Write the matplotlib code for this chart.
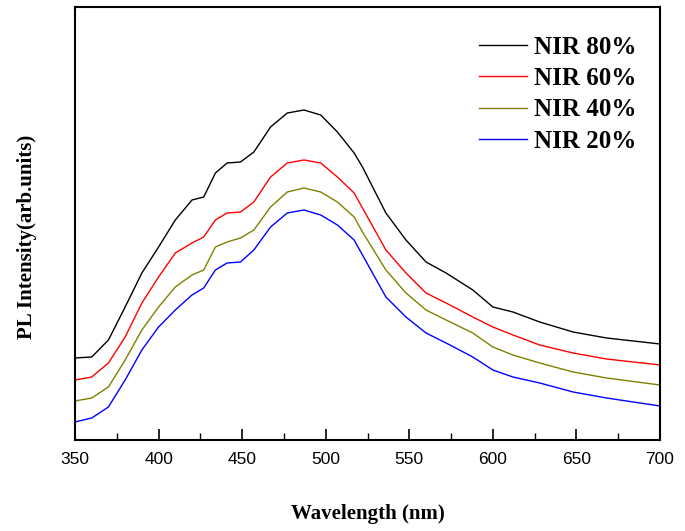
import matplotlib
matplotlib.use("Agg")
import matplotlib.pyplot as plt
from matplotlib.ticker import MultipleLocator

# wavelength grid (nm)
wavelength = [350, 360, 370, 380, 390, 400, 410, 420, 427, 434, 441, 449, 457, 467, 477,
              487, 497, 507, 517, 522, 536, 548, 560, 572, 588, 600, 612, 628, 648, 668, 700]

# PL intensity (arb. units), estimated from the curves
nir80 = [82, 83, 100, 133, 167, 193, 220, 240, 243, 267, 277, 278, 288, 313, 327,
         330, 325, 308, 287, 273, 227, 200, 178, 167, 150, 133, 128, 118, 108, 102, 96]
nir60 = [60, 63, 77, 103, 137, 163, 187, 197, 203, 220, 227, 228, 238, 263, 277,
         280, 277, 263, 247, 232, 190, 167, 147, 137, 123, 113, 105, 95, 87, 81, 75]
nir40 = [39, 42, 53, 80, 110, 133, 153, 165, 170, 193, 198, 202, 210, 233, 248,
         252, 248, 238, 223, 208, 170, 147, 130, 120, 107, 93, 85, 77, 68, 62, 55]
nir20 = [18, 22, 33, 60, 90, 113, 130, 145, 152, 170, 177, 178, 190, 213, 227,
         230, 225, 215, 200, 185, 143, 123, 107, 97, 83, 70, 63, 57, 48, 42, 34]

labels = ["NIR 80%", "NIR 60%", "NIR 40%", "NIR 20%"]
colors = ["black", "#ff0000", "#808000", "#0000ff"]

fig = plt.figure(figsize=(6.85, 5.31), dpi=100)
ax = fig.add_axes([0.1095, 0.1714, 0.854, 0.8154])

for ys, lab, c in zip([nir80, nir60, nir40, nir20], labels, colors):
    ax.plot(wavelength, ys, color=c, linewidth=1.0, label=lab)

ax.set_xlim(350, 700)
ax.set_ylim(0, 433)
ax.xaxis.set_major_locator(MultipleLocator(50))
ax.xaxis.set_minor_locator(MultipleLocator(25))
ax.set_yticks([])
ax.tick_params(axis="x", which="major", direction="in", length=8, width=1.2, pad=9)
ax.tick_params(axis="x", which="minor", direction="in", length=5, width=1.0)
ax.tick_params(axis="x", labelsize=12.5)
for lab in ax.get_xticklabels():
    lab.set_family("Liberation Sans")
for sp in ax.spines.values():
    sp.set_linewidth(1.5)

ax.set_xlabel("Wavelength (nm)", family="Liberation Serif", fontweight="bold",
              fontsize=15, labelpad=26)
ax.set_ylabel("PL Intensity(arb.units)", family="Liberation Serif", fontweight="bold",
              fontsize=15)
ax.yaxis.set_label_coords(-0.065, 0.47)

leg = ax.legend(loc="upper right", bbox_to_anchor=(0.977, 0.9567), frameon=False,
                handlelength=1.9, handletextpad=0.3, labelspacing=0.33, borderaxespad=0,
                prop={"family": "Liberation Serif", "weight": "bold", "size": 18})

fig.savefig("out.png", dpi=100)
